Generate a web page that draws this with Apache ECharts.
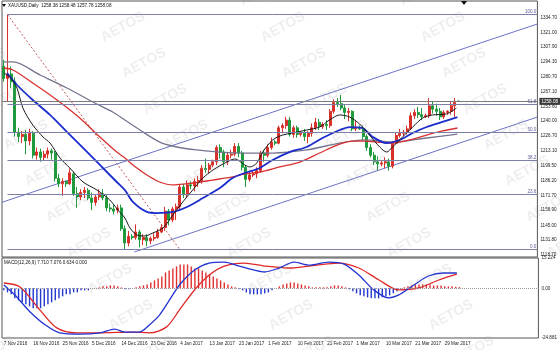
<!DOCTYPE html>
<html><head><meta charset="utf-8">
<script src="https://cdn.jsdelivr.net/npm/echarts@6/dist/echarts.min.js"></script>
<style>html,body{margin:0;padding:0;background:#fff}#c{width:560px;height:350px}</style>
</head><body><div id="c"></div>
<script>
// ---------- data ----------
const tickLabels = ['7 Nov 2016','16 Nov 2016','25 Nov 2016','5 Dec 2016','14 Dec 2016','23 Dec 2016','4 Jan 2017','13 Jan 2017','23 Jan 2017','1 Feb 2017','10 Feb 2017','21 Feb 2017','1 Mar 2017','10 Mar 2017','21 Mar 2017','29 Mar 2017'];
const priceTicks = [1118.70,1131.80,1145.00,1158.90,1171.70,1186.20,1199.50,1213.10,1226.70,1240.00,1253.60,1267.10,1280.70,1294.30,1307.90,1321.00,1334.70];
const lastPrice = 1258.08;
const opens = [1290,1279,1283,1276,1230,1226,1228,1222,1229,1209,1212,1207,1210,1213,1211,1188,1183,1185,1183,1192,1174,1171,1175,1177,1170,1166,1171,1174,1170,1161,1160,1159,1161,1142,1129,1135,1134,1139,1132,1134,1131,1133,1134,1139,1143,1158,1150,1160,1162,1180,1173,1182,1181,1185,1186,1197,1196,1200,1203,1216,1212,1203,1209,1210,1217,1211,1198,1187,1191,1192,1195,1211,1209,1216,1221,1220,1234,1236,1241,1228,1234,1228,1229,1226,1229,1234,1239,1235,1237,1236,1249,1257,1256,1252,1248,1249,1233,1234,1233,1226,1216,1209,1203,1201,1202,1203,1199,1220,1227,1229,1230,1233,1245,1248,1246,1244,1245,1254,1251,1249,1244,1248,1249,1254,1258.38];
const highs = [1296,1337,1290,1280,1234,1231,1232,1233,1231,1216,1215,1213,1216,1215,1213,1192,1188,1186,1197,1194,1180,1178,1180,1179,1175,1173,1178,1178,1173,1165,1164,1164,1164,1145,1140,1137,1146,1141,1137,1137,1135,1138,1142,1146,1162,1160,1162,1165,1182,1183,1186,1185,1188,1190,1200,1206,1202,1205,1218,1219,1214,1212,1214,1220,1220,1213,1200,1195,1195,1198,1213,1214,1219,1225,1223,1236,1238,1244,1244,1236,1236,1231,1233,1231,1238,1243,1242,1239,1241,1251,1260,1261,1264,1255,1252,1250,1240,1236,1236,1228,1219,1212,1208,1204,1207,1206,1222,1230,1233,1232,1236,1248,1251,1253,1252,1247,1261,1258,1256,1252,1250,1250,1258,1261,1258.48];
const lows = [1276,1258,1270,1226,1221,1220,1210,1218,1206,1205,1203,1204,1206,1205,1185,1180,1172,1180,1182,1172,1161,1168,1170,1168,1159,1163,1168,1168,1158,1157,1155,1156,1140,1123,1126,1132,1132,1125,1127,1126,1128,1131,1133,1138,1140,1145,1148,1150,1160,1170,1170,1178,1176,1180,1183,1193,1192,1198,1200,1206,1198,1200,1206,1208,1207,1195,1180,1185,1189,1188,1193,1203,1207,1214,1218,1219,1229,1233,1226,1225,1225,1226,1222,1220,1226,1232,1232,1233,1232,1234,1247,1253,1250,1242,1240,1231,1231,1232,1222,1213,1207,1200,1195,1199,1197,1195,1197,1219,1225,1226,1228,1232,1242,1243,1241,1243,1243,1247,1245,1241,1242,1246,1246,1244,1257.78];
const closes = [1279,1283,1276,1230,1226,1228,1222,1229,1209,1212,1207,1210,1213,1211,1188,1183,1185,1183,1193,1174,1171,1175,1177,1170,1166,1171,1174,1170,1161,1160,1158,1161,1142,1129,1135,1134,1139,1132,1134,1131,1133,1134,1139,1143,1158,1150,1160,1162,1180,1173,1182,1181,1185,1186,1197,1196,1200,1203,1216,1212,1203,1209,1210,1217,1211,1198,1187,1191,1192,1195,1211,1209,1216,1221,1220,1234,1236,1241,1228,1234,1228,1229,1226,1229,1234,1239,1235,1237,1236,1249,1257,1256,1252,1248,1249,1233,1234,1233,1226,1216,1209,1203,1201,1202,1203,1199,1220,1227,1229,1230,1233,1245,1248,1246,1244,1245,1254,1251,1249,1244,1248,1249,1254,1257,1258.08];
// moving averages: [bar index, price]
const maBlack = [[0,1284],[1.7,1280],[3.6,1270],[5.2,1252],[7.9,1236.5],[10.7,1225.6],[12.6,1220.1],[15.3,1206.5],[18,1197.4],[21.6,1184.6],[25.4,1177.3],[28.9,1168.2],[31.1,1159.1],[33,1151.8],[34.4,1142.7],[36.3,1136.3],[38.5,1135.4],[40.6,1138.1],[43.4,1142.7],[46.1,1154.5],[48.8,1166.4],[51.5,1177.3],[54.3,1188.2],[57,1195.5],[60.8,1202.8],[63,1205.6],[65.7,1200.1],[67.1,1198.3],[69,1202],[70.6,1211.9],[73.3,1222.9],[76,1227.4],[78.8,1229.3],[82.6,1232],[86.1,1234.7],[88.8,1241.1],[91.6,1245.7],[94.3,1243.8],[97,1237.5],[99.7,1227.4],[102.5,1216.5],[104.4,1211.9],[106,1216.5],[108.7,1225.6],[111.5,1234.7],[114.2,1242.9],[116.9,1245.7],[120.7,1246.6],[123.4,1252]];
const maBlue = [[0.9,1283.9],[3.6,1273],[7.9,1259.3],[12.6,1245.7],[17.2,1230.2],[21.6,1215.6],[26.2,1200.1],[30.8,1184.6],[33,1177.3],[35.2,1166.4],[39,1157.3],[41.7,1156.3],[46.1,1157.3],[49.9,1161.8],[54.3,1170],[58.9,1179.1],[62.4,1188.2],[65.7,1192.8],[69.8,1197.4],[73.3,1204.6],[77.9,1211.9],[82.6,1216.5],[86.9,1224.7],[91.6,1232],[94.3,1234.7],[97.8,1233.8],[100.6,1225.6],[104.4,1220.1],[107.9,1222.9],[111.5,1229.3],[115.3,1234.7],[119.6,1239.3],[123.7,1243.8]];
const maRed = [[0,1288.5],[2.5,1286.7],[7.9,1274.8],[14.5,1259.3],[20.7,1242.9],[26.2,1225.6],[30.8,1211.9],[33,1206.5],[35.2,1200.1],[39,1191],[42.5,1184.6],[46.1,1181.9],[51.5,1183.7],[57,1186.4],[62.4,1189.2],[65.7,1191.9],[69.8,1193.7],[75.2,1198.3],[80.7,1202.8],[86.1,1211],[91.6,1219.2],[95.1,1221.9],[98.4,1221.9],[101.6,1221],[106,1220.1],[110.6,1222.9],[115.3,1227.4],[119.6,1231.1],[123.7,1233.8]];
const maGray = [[0,1294],[2.5,1294],[9.9,1282.1],[17.2,1270.3],[24.3,1257.5],[29.7,1248.4],[33,1241.1],[37.1,1232],[42.5,1221],[47.2,1216.5],[52.6,1213.8],[58.9,1211.9],[65.7,1211],[73.3,1211],[82.6,1213.8],[91.6,1220.1],[98.4,1222.9],[106,1221],[115.3,1224.7],[123.7,1228.3]];
// drawn objects
const channelUpper = [[-0.5,1166.1],[145.5,1328.6]];
const channelLower = [[35.6,1120.8],[145.5,1243.8]];
const fibAnchor = [[1,1337.1],[48,1123.0]];
const fibHigh = 1337.1, fibLow = 1123.0;
const fibRatios = [0,23.6,38.2,50,61.8,100];
// MACD panel
const macdMax = 15.224, macdMin = -24.881;
const macdLine = [[0,1.7],[3,-3.3],[7.1,-11.7],[11.2,-18.2],[15.2,-22.3],[20.7,-22.9],[26.1,-22.3],[30.2,-20.4],[32.9,-21.9],[36.9,-21.9],[39.7,-18.2],[42.4,-13.3],[45.1,-5.8],[47.8,1.7],[51.9,9.2],[55.9,12.7],[60,13.2],[64.1,11.2],[68.2,9.2],[70.9,8.2],[74.9,10.2],[79,13.2],[83.1,11.7],[88.5,13.2],[92.6,12.2],[96.6,6.7],[100.7,-0.8],[104.8,-4.8],[107.5,-3.3],[111.6,1.7],[115.6,6.2],[119.7,7.7],[123.3,7.71]];
const signalLine = [[0,2.7],[4.4,0.7],[9.8,-10.8],[14.4,-19.8],[19.9,-22.3],[26.1,-22.3],[35.1,-21.9],[39.7,-22.3],[44.3,-19.3],[47.8,-10.8],[51.9,-0.8],[55.9,6.7],[60,11.2],[65.4,12.7],[70.9,11.2],[77.6,10.2],[83.1,11.2],[91.2,12.7],[96.6,10.2],[102.1,4.2],[107.5,-0.8],[112.9,0.2],[118.4,4.2],[123.3,7.08]];
const histogram = [-1,-2,-3,-5,-6,-7,-8,-9,-10,-10,-10,-9,-8,-7,-6,-5,-4,-3,-3,-2,-2,-1,-1,-1,0,0,0.5,1,1,1.5,1.5,1,0.5,-0.5,-0.5,0,0.5,1,1.5,2,3,4,5,6,8,9,10,11,12,12,12,11,10,10,9,8,7,6,5,4,3,2,1,0.5,-0.5,-1,-2,-3,-3,-3,-3,-2.5,-2,-1,0,1,2,2.5,3,3,2.5,2,1.5,1,0.5,0.5,0.5,0.5,0.5,1,1.5,1.5,1,0.5,-0.5,-1.5,-2.5,-3.5,-4,-4.5,-5,-5,-5,-4.5,-4,-3.5,-2.5,-1.5,-0.5,0.5,1,1.5,2,2,2,2,2,1.5,1.5,1.5,1,1,1,0.8,0.634];

// ---------- chart ----------
const N = 146; // bar slots incl. empty shift area
const cats = []; for (let i = 0; i < N; i++) cats.push(String(i));
const FS = 4.6, FF = 'Liberation Sans';
const ohlc = opens.map((o, i) => [o, closes[i], lows[i], highs[i]]);
const fibLevels = fibRatios.map(r => ({ r, v: fibLow + (fibHigh - fibLow) * r / 100 }));

const chart = echarts.init(document.getElementById('c'), null, { renderer: 'canvas' });
const L = 2, R = 20;

// watermark lattice
const marks = [];
for (let m = -2; m <= 4; m++) for (let k = -2; k <= 10; k++) {
  const x = 123 + 160 * m + 21 * k, y = 27 + 36 * k;
  if (x < -40 || x > 600 || y < -20 || y > 370) continue;
  marks.push({ type: 'text', x, y, rotation: 0.5, z: 100, silent: true,
    style: { text: 'AETOS', font: 'bold 14px "Liberation Sans"', fill: 'rgba(140,140,140,0.15)', textAlign: 'center', textVerticalAlign: 'middle' } });
}

chart.setOption({
  animation: false,
  backgroundColor: '#fff',
  textStyle: { fontFamily: FF },
  grid: [
    { left: L, right: R, top: 1, height: 256, show: true, borderColor: '#555', borderWidth: 1 },
    { left: L, right: R, top: 258, height: 80, show: true, borderColor: '#555', borderWidth: 1 }
  ],
  xAxis: [
    { type: 'category', gridIndex: 0, data: cats, show: false, boundaryGap: true },
    { type: 'value', gridIndex: 0, min: -0.5, max: N - 0.5, show: false },
    { type: 'category', gridIndex: 1, data: cats, boundaryGap: true,
      axisLine: { show: false }, axisTick: { show: false }, splitLine: { show: false },
      axisLabel: { interval: 7, fontSize: FS, fontFamily: FF, color: '#222', align: 'left', margin: 3,
        formatter: (v, idx) => tickLabels[idx / 8] || '' } },
    { type: 'value', gridIndex: 1, min: -0.5, max: N - 0.5, show: false }
  ],
  yAxis: [
    { type: 'value', gridIndex: 0, position: 'right', min: 1116.24, max: 1349.56, scale: true,
      splitLine: { show: false }, axisLine: { show: false }, axisTick: { show: false },
      axisLabel: { customValues: priceTicks, formatter: v => v.toFixed(2), fontSize: FS, fontFamily: FF, color: '#222', margin: 3 } },
    { type: 'value', gridIndex: 1, position: 'right', min: macdMin, max: macdMax,
      splitLine: { show: false }, axisLine: { show: false }, axisTick: { show: false },
      axisLabel: { customValues: [macdMax, 0, macdMin], formatter: v => v === 0 ? '0.00' : v.toFixed(3), fontSize: FS, fontFamily: FF, color: '#222', margin: 3 } }
  ],
  series: [
    { type: 'candlestick', xAxisIndex: 0, yAxisIndex: 0, data: ohlc, barWidth: 2.4, z: 3,
      itemStyle: { color: '#d8302a', color0: '#1f9a3c', borderColor: '#d8302a', borderColor0: '#1f9a3c', borderWidth: 1 },
      markLine: { silent: true, symbol: 'none', animation: false,
        lineStyle: { color: '#7a7a7a', width: 1, type: 'solid' },
        label: { show: true, position: 'end', distance: 2, formatter: lastPrice.toFixed(2), backgroundColor: '#3a3a3a', color: '#fff', fontSize: FS, fontFamily: FF, padding: [1, 2] },
        data: [{ yAxis: lastPrice }] } },
    { type: 'line', name: 'fib', xAxisIndex: 1, yAxisIndex: 0, data: [], z: 2,
      markLine: { silent: true, symbol: 'none', animation: false,
        lineStyle: { color: '#7c80a8', width: 1, type: 'solid' },
        label: { show: true, position: 'insideEndTop', distance: [1, 0], fontSize: FS, fontFamily: FF, color: '#5a5a9a' },
        data: fibLevels.map(f => [{ coord: [fibAnchor[0][0], f.v], label: { formatter: f.r.toFixed(1) } }, { coord: [N - 0.5, f.v] }]) } },
    { type: 'line', xAxisIndex: 1, yAxisIndex: 0, data: fibAnchor, showSymbol: false, z: 2,
      lineStyle: { color: '#c05a5a', width: 1, type: [2, 2] } },
    { type: 'line', xAxisIndex: 1, yAxisIndex: 0, data: channelUpper, showSymbol: false, z: 2,
      lineStyle: { color: '#6c74c4', width: 1 } },
    { type: 'line', xAxisIndex: 1, yAxisIndex: 0, data: channelLower, showSymbol: false, z: 2,
      lineStyle: { color: '#6c74c4', width: 1 } },
    { type: 'line', xAxisIndex: 1, yAxisIndex: 0, data: maGray, showSymbol: false, smooth: 0.3, z: 4,
      lineStyle: { color: '#74748e', width: 1.3 } },
    { type: 'line', xAxisIndex: 1, yAxisIndex: 0, data: maRed, showSymbol: false, smooth: 0.3, z: 4,
      lineStyle: { color: '#d83030', width: 1.3 } },
    { type: 'line', xAxisIndex: 1, yAxisIndex: 0, data: maBlue, showSymbol: false, smooth: 0.3, z: 4,
      lineStyle: { color: '#1a2ccc', width: 1.8 } },
    { type: 'line', xAxisIndex: 1, yAxisIndex: 0, data: maBlack, showSymbol: false, smooth: 0.3, z: 4,
      lineStyle: { color: '#1a1a1a', width: 1 } },
    { type: 'bar', xAxisIndex: 2, yAxisIndex: 1, data: histogram, barWidth: 1.4, z: 2,
      itemStyle: { color: p => p.value >= 0 ? '#e03030' : '#2236d0' },
      markLine: { silent: true, symbol: 'none', animation: false, label: { show: false },
        lineStyle: { color: '#999', width: 1, type: 'dotted' }, data: [{ yAxis: 0 }] } },
    { type: 'line', xAxisIndex: 3, yAxisIndex: 1, data: signalLine, showSymbol: false, smooth: 0.3, z: 3,
      lineStyle: { color: '#e02828', width: 1.3 } },
    { type: 'line', xAxisIndex: 3, yAxisIndex: 1, data: macdLine, showSymbol: false, smooth: 0.3, z: 4,
      lineStyle: { color: '#2234d0', width: 1.3 } }
  ],
  graphic: [
    { type: 'polygon', shape: { points: [[2, 4], [6, 4], [4, 7]] }, style: { fill: '#111' }, z: 120 },
    { type: 'text', x: 8, y: 3, z: 120, style: { text: 'XAUUSD,Daily  1258.38 1258.48 1257.78 1258.08', font: '4.6px "Liberation Sans"', fill: '#111' } },
    { type: 'text', x: 4, y: 260, z: 120, style: { text: 'MACD(12,26,9) 7.710 7.076 0.634 0.000', font: '4.6px "Liberation Sans"', fill: '#111' } },
    { type: 'polygon', shape: { points: [[461, 1], [467, 1], [464, 5]] }, style: { fill: '#111' }, z: 120 }
  ].concat(marks)
});
</script></body></html>
